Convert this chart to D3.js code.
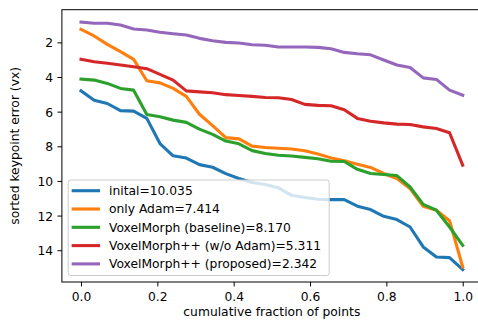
<!DOCTYPE html>
<html>
<head>
<meta charset="utf-8">
<script src="https://cdn.jsdelivr.net/npm/d3@7"></script>
<style>
  html, body { margin: 0; padding: 0; background: #fff; }
  svg { display: block; font-family: "DejaVu Sans", sans-serif; }
</style>
</head>
<body>
<svg id="chart" width="478" height="320"></svg>
<script>
// ---- data ----
const seriesNames = [
  "inital=10.035",
  "only Adam=7.414",
  "VoxelMorph (baseline)=8.170",
  "VoxelMorph++ (w/o Adam)=5.311",
  "VoxelMorph++ (proposed)=2.342"
];
const seriesColors = ["#1f77b4", "#ff7f0e", "#2ca02c", "#d62728", "#9467bd"];

const initial = [4.80, 5.34, 5.53, 5.94, 5.97, 6.39, 7.84, 8.55, 8.68, 9.06,
                 9.21, 9.58, 9.86, 10.09, 10.21, 10.40, 10.83, 10.96, 11.06, 11.08,
                 11.08, 11.46, 11.65, 12.04, 12.23, 12.66, 13.81, 14.39, 14.43, 15.12];
const onlyAdam = [1.25, 1.63, 2.12, 2.54, 2.98, 4.22, 4.34, 4.66, 5.12, 6.15,
                  6.81, 7.50, 7.57, 7.99, 8.07, 8.11, 8.16, 8.26, 8.44, 8.67,
                  8.84, 9.04, 9.22, 9.57, 9.86, 10.44, 11.46, 11.69, 12.30, 14.97];
const voxelMorph = [4.12, 4.18, 4.37, 4.66, 4.76, 6.16, 6.30, 6.49, 6.62, 7.01,
                    7.31, 7.70, 7.86, 8.25, 8.42, 8.52, 8.56, 8.64, 8.72, 8.86,
                    8.88, 9.33, 9.57, 9.63, 9.69, 10.35, 11.35, 11.69, 12.66, 13.72];
const vmppNoAdam = [2.98, 3.12, 3.21, 3.31, 3.41, 3.52, 3.85, 4.18, 4.80, 4.86,
                    4.91, 5.02, 5.07, 5.12, 5.18, 5.20, 5.30, 5.58, 5.64, 5.66,
                    5.89, 6.39, 6.55, 6.65, 6.72, 6.74, 6.88, 6.97, 7.22, 9.09];
const vmppProposed = [0.83, 0.90, 0.90, 1.00, 1.23, 1.29, 1.42, 1.50, 1.58, 1.77,
                      1.91, 2.00, 2.04, 2.14, 2.17, 2.27, 2.27, 2.27, 2.29, 2.37,
                      2.58, 2.66, 2.72, 3.02, 3.31, 3.45, 4.05, 4.14, 4.76, 5.05];
const allSeries = [initial, onlyAdam, voxelMorph, vmppNoAdam, vmppProposed];

const xTicks = [0.0, 0.2, 0.4, 0.6, 0.8, 1.0];
const yTicks = [2, 4, 6, 8, 10, 12, 14];
const xLabel = "cumulative fraction of points";
const yLabel = "sorted keypoint error (vx)";

(function () {
// ---- layout ----
const svg = d3.select("#chart");
const pLeft = 61.9, pRight = 481.8, pTop = 9.7, pBottom = 282;
const fs = 12.3;

const nPts = initial.length;
const xVal = i => i / (nPts - 1);

const allVals = allSeries.flat();
const yMin = d3.min(allVals), yMax = d3.max(allVals);
const ym = (yMax - yMin) * 0.05;

const x = d3.scaleLinear().domain([-0.05, 1.05]).range([pLeft, pRight]);
const y = d3.scaleLinear().domain([yMin - ym, yMax + ym]).range([pTop, pBottom]); // inverted

// lines
const line = d3.line().x((d, i) => x(xVal(i))).y(d => y(d));
const lineG = svg.append("g");
allSeries.forEach((s, k) => {
  lineG.append("path")
    .datum(s)
    .attr("d", line)
    .attr("fill", "none")
    .attr("stroke", seriesColors[k])
    .attr("stroke-width", 3.1)
    .attr("stroke-linejoin", "round")
    .attr("stroke-linecap", "square");
});

// axes
const xAxis = svg.append("g").attr("transform", `translate(0,${pBottom})`)
  .call(d3.axisBottom(x).tickValues(xTicks).tickFormat(d3.format(".1f")).tickSizeOuter(0).tickSize(4.4).tickPadding(4.4));
const yAxis = svg.append("g").attr("transform", `translate(${pLeft},0)`)
  .call(d3.axisLeft(y).tickValues(yTicks).tickFormat(d3.format("d")).tickSizeOuter(0).tickSize(4.4).tickPadding(4.4));
[xAxis, yAxis].forEach(a => {
  a.select(".domain").remove();
  a.selectAll("line").attr("stroke", "#000").attr("stroke-width", 1);
  a.selectAll("text").attr("font-size", fs).attr("font-family", "DejaVu Sans").attr("fill", "#000");
});
xAxis.selectAll("text").attr("dy", null).attr("y", 19.2);
yAxis.selectAll("text").attr("dy", "0.36em");

// spines
svg.append("rect")
  .attr("x", pLeft).attr("y", pTop)
  .attr("width", pRight - pLeft).attr("height", pBottom - pTop)
  .attr("fill", "none").attr("stroke", "#000").attr("stroke-width", 1);

// axis labels
svg.append("text")
  .attr("x", (pLeft + pRight) / 2).attr("y", 316)
  .attr("text-anchor", "middle").attr("font-size", fs)
  .text(xLabel);
svg.append("text")
  .attr("transform", `translate(19,${(pTop + pBottom) / 2}) rotate(-90)`)
  .attr("text-anchor", "middle").attr("font-size", fs)
  .text(yLabel);

// legend
const lg = svg.append("g");
const lx = 68.2, ly = 180, lw = 261, lh = 95.5;
lg.append("rect")
  .attr("x", lx).attr("y", ly).attr("width", lw).attr("height", lh)
  .attr("rx", 2.5).attr("ry", 2.5)
  .attr("fill", "#fff").attr("fill-opacity", 0.8)
  .attr("stroke", "#cccccc").attr("stroke-width", 1);
const rowY0 = 190.7, rowStep = 18.3;
seriesNames.forEach((name, k) => {
  const cy = rowY0 + k * rowStep;
  lg.append("line")
    .attr("x1", 73.2).attr("x2", 98.5)
    .attr("y1", cy).attr("y2", cy)
    .attr("stroke", seriesColors[k]).attr("stroke-width", 3.1)
    .attr("stroke-linecap", "square");
  lg.append("text")
    .attr("x", 109).attr("y", cy).attr("dy", "0.36em")
    .attr("font-size", fs)
    .text(name);
});
})();
</script>
</body>
</html>
